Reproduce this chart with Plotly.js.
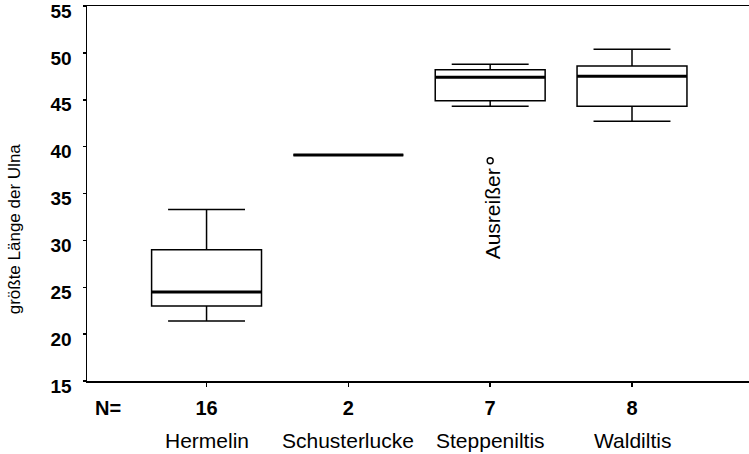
<!DOCTYPE html>
<html>
<head>
<meta charset="utf-8">
<script src="https://cdn.plot.ly/plotly-3.0.1.min.js"></script>
<style>html,body{margin:0;padding:0;background:#fff}#chart{width:749px;height:454px}</style>
</head>
<body>
<div id="chart"></div>
<script>
const categories = ['Hermelin', 'Schusterlucke', 'Steppeniltis', 'Waldiltis'];
const nValues = [16, 2, 7, 8];
const lowerWhisker = [21.4, 39.1, 44.3, 42.7];
const q1 = [23.0, 39.1, 44.9, 44.3];
const median = [24.5, 39.1, 47.4, 47.5];
const q3 = [29.0, 39.1, 48.2, 48.6];
const upperWhisker = [33.3, 39.1, 48.8, 50.4];
const outlierCategory = ['Steppeniltis'];
const outlierValue = [38.5];
const outlierLabel = 'Ausreißer';
const yTicks = [15, 20, 25, 30, 35, 40, 45, 50, 55];
const yTitle = 'größte Länge der Ulna';

const FONT = 'Liberation Sans, Arial, sans-serif';
const pos = categories.map((c, i) => i + 1);
const outlierPos = outlierCategory.map(c => categories.indexOf(c) + 1);

const boxTrace = {
  type: 'box',
  x: pos,
  q1: q1, median: median, q3: q3,
  lowerfence: lowerWhisker, upperfence: upperWhisker,
  width: 0.775,
  whiskerwidth: 0.7,
  boxpoints: false,
  fillcolor: 'rgba(255,255,255,0)',
  line: {color: '#000', width: 1.5},
  hoverinfo: 'skip',
  showlegend: false
};
const medianTrace = {
  type: 'box',
  x: pos,
  q1: median, median: median, q3: median,
  lowerfence: median, upperfence: median,
  width: 0.775,
  whiskerwidth: 0,
  boxpoints: false,
  fillcolor: 'rgba(255,255,255,0)',
  line: {color: '#000', width: 3},
  hoverinfo: 'skip',
  showlegend: false
};
const outlierTrace = {
  type: 'scatter', mode: 'markers',
  x: outlierPos, y: outlierValue,
  marker: {symbol: 'circle-open', size: 6, color: '#000', line: {width: 1.4, color: '#000'}},
  hoverinfo: 'skip', showlegend: false
};

const annotations = [];
categories.forEach((c, i) => {
  annotations.push({
    xref: 'x', yref: 'paper', x: pos[i], y: 0, yshift: -59,
    xanchor: 'center', yanchor: 'middle', showarrow: false,
    text: c, font: {family: FONT, size: 21, color: '#000'}
  });
});
annotations.push({
  xref: 'paper', yref: 'paper', x: 0.031, y: 0, yshift: -27,
  xanchor: 'center', yanchor: 'middle', showarrow: false,
  text: '<b>N=</b>', font: {family: FONT, size: 20, color: '#000'}
});
annotations.push({
  xref: 'x', yref: 'y', x: outlierPos[0], y: outlierValue[0], yshift: -6, xshift: 2,
  xanchor: 'center', yanchor: 'top', showarrow: false, textangle: -90,
  text: outlierLabel, font: {family: FONT, size: 21, color: '#000'}
});
annotations.push({
  xref: 'paper', yref: 'paper', x: -0.110, y: 0.405,
  xanchor: 'center', yanchor: 'middle', showarrow: false, textangle: -90,
  text: yTitle, font: {family: FONT, size: 17, color: '#000'}
});

const layout = {
  width: 749, height: 454,
  margin: {l: 87, r: 0, t: 6, b: 73},
  paper_bgcolor: '#fff', plot_bgcolor: '#fff',
  showlegend: false,
  font: {family: FONT, color: '#000'},
  xaxis: {
    range: [0.157, 4.825], showgrid: false, zeroline: false,
    showline: true, linecolor: '#000', linewidth: 1.5, mirror: true,
    tickvals: pos, ticktext: nValues.map(n => '<b>' + n + '</b>'),
    ticks: 'outside', ticklen: 4, tickwidth: 1.5, tickcolor: '#000',
    ticklabelstandoff: 4,
    tickfont: {size: 20, color: '#000'}
  },
  yaxis: {
    range: [15, 55], showgrid: false, zeroline: false,
    showline: true, linecolor: '#000', linewidth: 1.5,
    tickvals: yTicks, ticktext: yTicks.map(v => '<b>' + v + '</b>'),
    ticks: 'outside', ticklen: 3, tickwidth: 1.5, tickcolor: '#000',
    ticklabeloverflow: 'allow', ticklabelshift: 5, ticklabelstandoff: 7,
    tickfont: {size: 19, color: '#000'}
  },
  annotations: annotations
};

Plotly.newPlot('chart', [boxTrace, medianTrace, outlierTrace], layout, {staticPlot: true});
</script>
</body>
</html>
